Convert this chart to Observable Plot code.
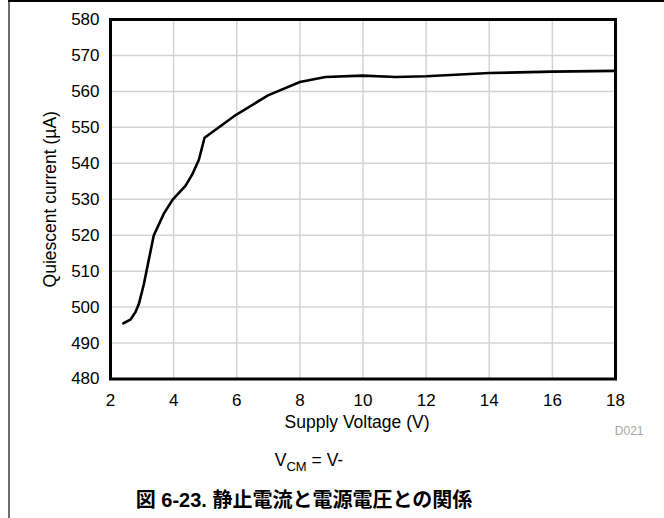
<!DOCTYPE html>
<html>
<head>
<meta charset="utf-8">
<script src="https://cdn.jsdelivr.net/npm/d3@7"></script>
<script src="https://cdn.jsdelivr.net/npm/@observablehq/plot@0.6"></script>
<style>
  html, body { margin: 0; padding: 0; background: #fff; }
  #page { position: relative; width: 664px; height: 518px; overflow: hidden; font-family: "Liberation Sans", Arial, sans-serif; }
  #border-left { position: absolute; left: 8px; top: 0; width: 2px; height: 518px; background: #6e6e6e; }
  #border-top { position: absolute; left: 8px; top: 0; width: 656px; height: 1.5px; background: #000; }
  #chart { position: absolute; left: 0; top: 0; }
  #cond { position: absolute; left: 0; width: 618px; top: 450px; text-align: center; font-size: 17.5px; line-height: 20px; color: #000; }
  #cond sub { font-size: 13px; line-height: 0; vertical-align: baseline; position: relative; top: 5px; }
  #caption { position: absolute; left: 0; width: 608px; top: 489px; text-align: center; font-size: 20px; line-height: 22px; font-weight: bold; color: #000; font-family: "Liberation Sans", "Noto Sans CJK JP", sans-serif; }
</style>
</head>
<body>
<div id="page">
  <div id="border-left"></div>
  <div id="border-top"></div>
  <div id="chart"></div>
  <div id="cond">V<sub>CM</sub> = V-</div>
  <div id="caption">図 6-23. 静止電流と電源電圧との関係</div>
</div>
<script>
const voltage = [2.41, 2.63, 2.79, 2.90, 3.06, 3.21, 3.37, 3.69, 3.97, 4.38, 4.59, 4.80, 4.98, 5.98, 6.99, 8.0, 8.81, 9.98, 11.04, 12.0, 14.0, 16.0, 18.0];
const current = [495.5, 496.5, 498.6, 500.9, 506.5, 513.0, 519.9, 526.0, 529.9, 533.8, 536.9, 541.0, 547.1, 553.5, 558.9, 562.6, 564.0, 564.4, 564.0, 564.2, 565.1, 565.5, 565.7];
const xTicks = [2, 4, 6, 8, 10, 12, 14, 16, 18];
const yTicks = [480, 490, 500, 510, 520, 530, 540, 550, 560, 570, 580];
const xLabel = "Supply Voltage (V)";
const yLabel = "Quiescent current (µA)";
const figId = "D021";

const data = voltage.map((v, i) => ({v, c: current[i]}));

const chart = Plot.plot({
  width: 664,
  height: 440,
  marginLeft: 110,
  marginRight: 49,
  marginTop: 19,
  marginBottom: 61.5,
  style: {fontFamily: "'Liberation Sans', Arial, sans-serif", fontSize: "17px", color: "#000", background: "transparent"},
  x: {domain: [2, 18], ticks: xTicks, label: null},
  y: {domain: [480, 580], ticks: yTicks, label: null},
  marks: [
    Plot.gridX(xTicks, {stroke: "#d4d4d4", strokeOpacity: 1, strokeWidth: 1.5}),
    Plot.gridY(yTicks, {stroke: "#d4d4d4", strokeOpacity: 1, strokeWidth: 1.5}),
    Plot.axisX(xTicks, {tickSize: 0, tickPadding: 15, fontSize: 17, label: null}),
    Plot.axisY(yTicks, {tickSize: 0, tickPadding: 11, fontSize: 17, label: null}),
    Plot.line(data, {x: "v", y: "c", stroke: "#000", strokeWidth: 2.6, curve: "linear"}),
    Plot.frame({stroke: "#000", strokeWidth: 3}),
    Plot.text([yLabel], {frameAnchor: "left", dx: -60, rotate: -90, textAnchor: "middle", fontSize: 17.5, fill: "#000"}),
    Plot.text([xLabel], {frameAnchor: "bottom", dx: -6, dy: 49, textAnchor: "middle", fontSize: 17.5, fill: "#000"}),
    Plot.text([figId], {frameAnchor: "bottom-right", dx: 28, dy: 56, textAnchor: "end", fontSize: 12, fill: "#a6a6a6"})
  ]
});
document.getElementById("chart").appendChild(chart);
</script>
</body>
</html>
